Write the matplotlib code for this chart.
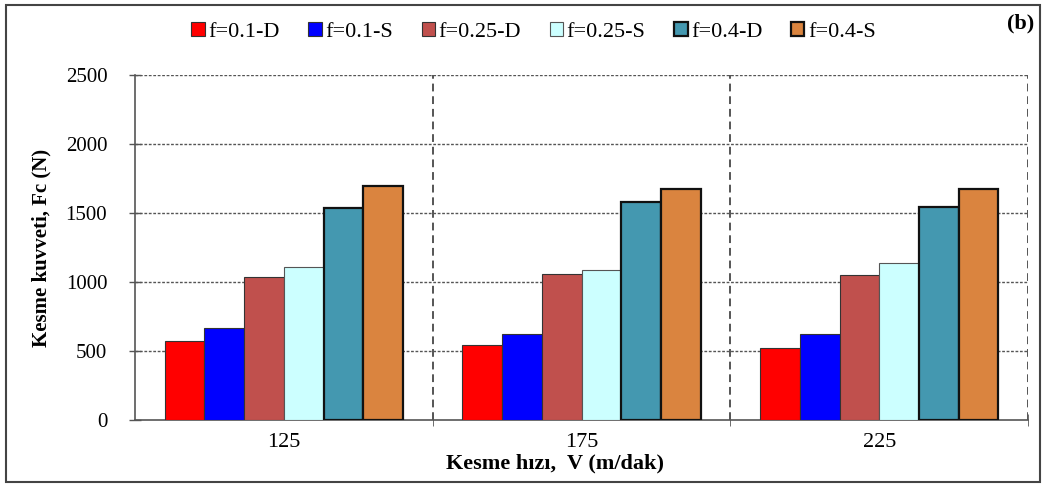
import numpy as np
import matplotlib as mpl
from matplotlib import pyplot as plt
from matplotlib.patches import Rectangle

### fonts ###
mpl.rc('font', family='Liberation Serif', size=15)

### data ###
speeds = ['125', '175', '225']
labels = ['f=0.1-D', 'f=0.1-S', 'f=0.25-D', 'f=0.25-S', 'f=0.4-D', 'f=0.4-S']
f01_D = [572, 546, 524]
f01_S = [669, 625, 625]
f025_D = [1034, 1058, 1051]
f025_S = [1109, 1087, 1135]
f04_D = [1538, 1577, 1546]
f04_S = [1696, 1672, 1672]
series = [f01_D, f01_S, f025_D, f025_S, f04_D, f04_S]

colors = ['#FF0000', '#0000FF', '#C0504D', '#CCFFFF', '#4498B0', '#DA843F']
edges = ['#333333', '#333333', '#333333', '#555555', '#111111', '#111111']
lws = [0.8, 0.8, 0.8, 0.8, 1.6, 1.6]

fig = plt.figure(figsize=(10.42, 4.84), dpi=100)
ax = fig.add_axes([0.1296, 0.1322, 0.857, 0.7128])

x = np.arange(len(speeds))
n = len(series)
w = 0.8 / n
for i, vals in enumerate(series):
    ax.bar(x - 0.4 + w * (i + 0.5), vals, width=w, color=colors[i],
           edgecolor=edges[i], linewidth=lws[i], label=labels[i], zorder=3)

ax.set_xlim(-0.5, 2.5)
ax.set_ylim(0, 2500)
ax.set_yticks(np.arange(0, 2501, 500))
ax.set_xticks(x)
ax.set_xticklabels(speeds, fontsize=16)
ax.tick_params(axis='x', length=0, pad=9)
ax.tick_params(axis='y', direction='inout', length=8, width=1, color='#555555', pad=16)

# minor ticks at group boundaries
ax.set_xticks([0.5, 1.5, 2.5], minor=True)
ax.tick_params(axis='x', which='minor', direction='inout', length=8, color='#555555')

# horizontal grid
for yv in [500, 1000, 1500, 2000, 2500]:
    ax.axhline(yv, color='#555555', lw=1.0, ls=(0, (2, 1.2)), zorder=1)
# vertical group separators
for xv in [0.5, 1.5, 2.5]:
    ax.axvline(xv, color='#555555', lw=1.4, ls=(0, (4, 2.5)), zorder=1)

for s in ['top', 'right']:
    ax.spines[s].set_visible(False)
ax.spines['left'].set_color('#555555')
ax.spines['bottom'].set_color('#555555')
ax.spines['left'].set_linewidth(1.2)
ax.spines['bottom'].set_linewidth(1.2)

ax.set_xlabel('Kesme hızı,  V (m/dak)', fontweight='bold', fontsize=16)
ax.xaxis.set_label_coords(0.47, -0.098)
ax.set_ylabel('Kesme kuvveti, Fc (N)', fontweight='bold', fontsize=15, labelpad=10)

### legend & panel tag ###
fig.legend(loc='center', bbox_to_anchor=(0.512, 0.934), ncol=6, frameon=False,
           handlelength=0.6, handleheight=0.6, handletextpad=0.15,
           columnspacing=1.3, fontsize=16)
fig.text(0.993, 0.952, '(b)', ha='right', va='center', fontweight='bold', fontsize=16)

# outer frame
fig.patches.append(Rectangle((0.006, 0.004), 0.992, 0.986, transform=fig.transFigure,
                             fill=False, edgecolor='#444444', lw=1.5))

plt.savefig('out.png', dpi=100)
